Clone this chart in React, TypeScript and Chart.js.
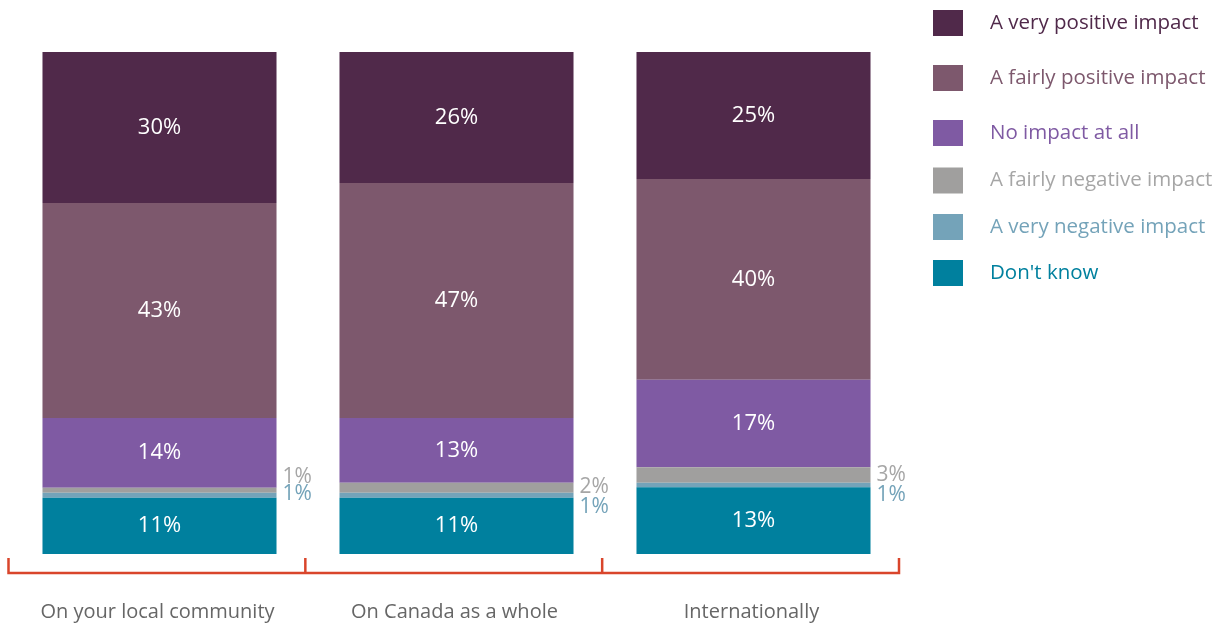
import React, { useEffect, useRef } from "react";
import { Chart, registerables } from "chart.js";

Chart.register(...registerables);

const categories = ["On your local community", "On Canada as a whole", "Internationally"];
const seriesNames = [
  "A very positive impact",
  "A fairly positive impact",
  "No impact at all",
  "A fairly negative impact",
  "A very negative impact",
  "Don't know",
];
const veryPositive = [30.1, 26.1, 25.3];
const fairlyPositive = [42.8, 46.8, 40.0];
const noImpact = [13.9, 12.9, 17.4];
const fairlyNegative = [1, 2, 3.1];
const veryNegative = [1, 1, 0.9];
const dontKnow = [11.2, 11.2, 13.3];

const colors = ["#50294a", "#7d586d", "#7f5aa3", "#a09f9e", "#74a3b9", "#00809e"];
const legendTextColors = ["#50294a", "#7d586d", "#7f5aa3", "#a6a6a6", "#74a3b9", "#00809e"];
const legendCenters = [23, 78, 133, 180.5, 227, 273];
// outside-label vertical nudges (px) for small segments: [fairlyNegative, veryNegative]
const outsideNudge = [
  [-13, -1],
  [-1, 12],
  [0, 10],
];

const FONT = '"Open Sans", "Noto Sans", sans-serif';

export default function App() {
  const ref = useRef<HTMLCanvasElement | null>(null);

  useEffect(() => {
    document.body.style.margin = "0";
    let chart: Chart | null = null;
    let cancelled = false;

    const values = [veryPositive, fairlyPositive, noImpact, fairlyNegative, veryNegative, dontKnow];

    const overlay = {
      id: "overlay",
      afterDatasetsDraw(c: any) {
        const ctx = c.ctx;
        const area = c.chartArea;
        const xs = c.scales.x;
        ctx.save();
        // value labels
        c.data.datasets.forEach((ds: any, di: number) => {
          const meta = c.getDatasetMeta(di);
          const seriesIdx = ds.seriesIdx;
          meta.data.forEach((bar: any, i: number) => {
            const v = ds.data[i];
            const txt = Math.round(v) + "%";
            const cy = (bar.y + bar.base) / 2;
            ctx.textBaseline = "middle";
            if (seriesIdx === 3 || seriesIdx === 4) {
              ctx.font = "21px " + FONT;
              ctx.fillStyle = legendTextColors[seriesIdx];
              ctx.textAlign = "left";
              const nudge = outsideNudge[i][seriesIdx - 3];
              ctx.fillText(txt, bar.x + bar.width / 2 + 6, cy + nudge);
            } else {
              ctx.font = "22px " + FONT;
              ctx.fillStyle = "#ffffff";
              ctx.textAlign = "center";
              ctx.fillText(txt, bar.x, cy);
            }
          });
        });
        // bracket
        const left = area.left - 2.5;
        const right = area.right - 3;
        const yb = area.bottom + 19;
        const yt = area.bottom + 4;
        ctx.strokeStyle = "#d9452b";
        ctx.lineWidth = 2.5;
        ctx.beginPath();
        ctx.moveTo(left, yt);
        ctx.lineTo(left, yb);
        ctx.lineTo(right, yb);
        ctx.lineTo(right, yt);
        ctx.stroke();
        const step = (right - left) / categories.length;
        for (let k = 1; k < categories.length; k++) {
          const x = left + step * k;
          ctx.beginPath();
          ctx.moveTo(x, yt);
          ctx.lineTo(x, yb);
          ctx.stroke();
        }
        // category labels
        ctx.font = "20px " + FONT;
        ctx.fillStyle = "#666666";
        ctx.textAlign = "center";
        ctx.textBaseline = "middle";
        categories.forEach((cat, i) => {
          ctx.fillText(cat, xs.getPixelForValue(i) - 2, area.bottom + 58);
        });
        // legend
        const lx = 933;
        seriesNames.forEach((name, i) => {
          const cy = legendCenters[i];
          ctx.fillStyle = colors[i];
          ctx.fillRect(lx, cy - 13, 30, 26);
          ctx.fillStyle = legendTextColors[i];
          ctx.font = "20.5px " + FONT;
          ctx.textAlign = "left";
          ctx.textBaseline = "middle";
          ctx.fillText(name, lx + 57, cy);
        });
        ctx.restore();
      },
    };

    const build = () => {
      if (cancelled || !ref.current) return;
      const order = [5, 4, 3, 2, 1, 0];
      chart = new Chart(ref.current, {
        type: "bar",
        data: {
          labels: categories,
          datasets: order.map((s) => ({
            label: seriesNames[s],
            data: values[s],
            backgroundColor: colors[s],
            borderWidth: 0,
            seriesIdx: s,
            categoryPercentage: 1,
            barPercentage: 0.788,
          })) as any,
        },
        options: {
          responsive: false,
          animation: false,
          devicePixelRatio: 1,
          layout: { padding: { left: 11, right: 325, top: 52, bottom: 72 } },
          plugins: { legend: { display: false }, tooltip: { enabled: false } },
          scales: {
            x: { stacked: true, display: false },
            y: { stacked: true, display: false, min: 0, max: 100 },
          },
        },
        plugins: [overlay],
      });
    };

    if ((document as any).fonts && (document as any).fonts.load) {
      (document as any).fonts.load('20px "Open Sans"').then(build, build);
    } else {
      build();
    }

    return () => {
      cancelled = true;
      if (chart) chart.destroy();
    };
  }, []);

  return (
    <div style={{ width: 1227, height: 626, position: "relative" }}>
      <canvas ref={ref} width={1227} height={626} />
    </div>
  );
}
